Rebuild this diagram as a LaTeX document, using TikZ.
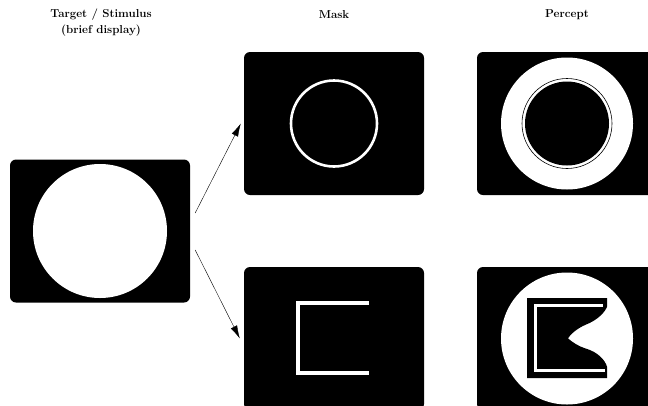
\documentclass[tikz,border=0pt]{standalone}
\usepackage{tikz}
\usetikzlibrary{arrows.meta}

\begin{document}
\begin{tikzpicture}[x=1pt,y=-1pt,
  panel/.style={fill=black,rounded corners=6pt,minimum width=180pt,minimum height=143pt,inner sep=0pt},
  every node/.style={font=\fontsize{11.5}{16}\selectfont\bfseries}]
  \useasboundingbox (0,0) rectangle (648,405);
  % column titles
  \node[align=center] (ttarget) at (101,23) {Target / Stimulus\\(brief display)};
  \node (tmask) at (334,15) {Mask};
  \node (tpercept) at (567,15) {Percept};
  % panels
  \node[panel] (target) at (100,231) {};
  \node[panel] (ringmask) at (334,123.5) {};
  \node[panel] (ringpercept) at (567,123.5) {};
  \node[panel] (barmask) at (334,338.5) {};
  \node[panel] (barpercept) at (567,338.5) {};
  % stimulus disk
  \fill[white] (target.center) circle[radius=67pt];
  % ring mask
  \draw[white,line width=2.6pt] (ringmask.center) circle[radius=43pt];
  % ring percept
  \fill[white] (ringpercept.center) circle[radius=66pt];
  \fill[black] (ringpercept.center) circle[radius=42pt];
  \draw[black,line width=0.6pt] (ringpercept.center) circle[radius=45pt];
  % bracket mask
  \draw[white,line width=3.5pt] (369,303) -- (298,303) -- (298,373) -- (369,373);
  % bracket percept
  \fill[white] (barpercept.center) circle[radius=66pt];
  \fill[black] (527,298) -- (607,298) -- (607,306.7)
    .. controls (605,312) and (598,320) .. (585,325)
    .. controls (576,329) and (570,335) .. (568,338.3)
    .. controls (572,342) and (578,346) .. (585,348.3)
    .. controls (598,352) and (605,360) .. (607,366.7)
    -- (607,378) -- (527,378) -- cycle;
  \draw[white,line width=3pt] (603,305) -- (535,305) -- (535,370.5) -- (605,370.5);
  % arrows
  \draw[-{Latex[length=13pt,width=7pt]},thin] ([xshift=5pt,yshift=18pt]target.east) -- ([xshift=-3pt]ringmask.west);
  \draw[-{Latex[length=13pt,width=7pt]},thin] ([xshift=5pt,yshift=-19pt]target.east) -- ([xshift=-4pt]barmask.west);
\end{tikzpicture}
\end{document}
